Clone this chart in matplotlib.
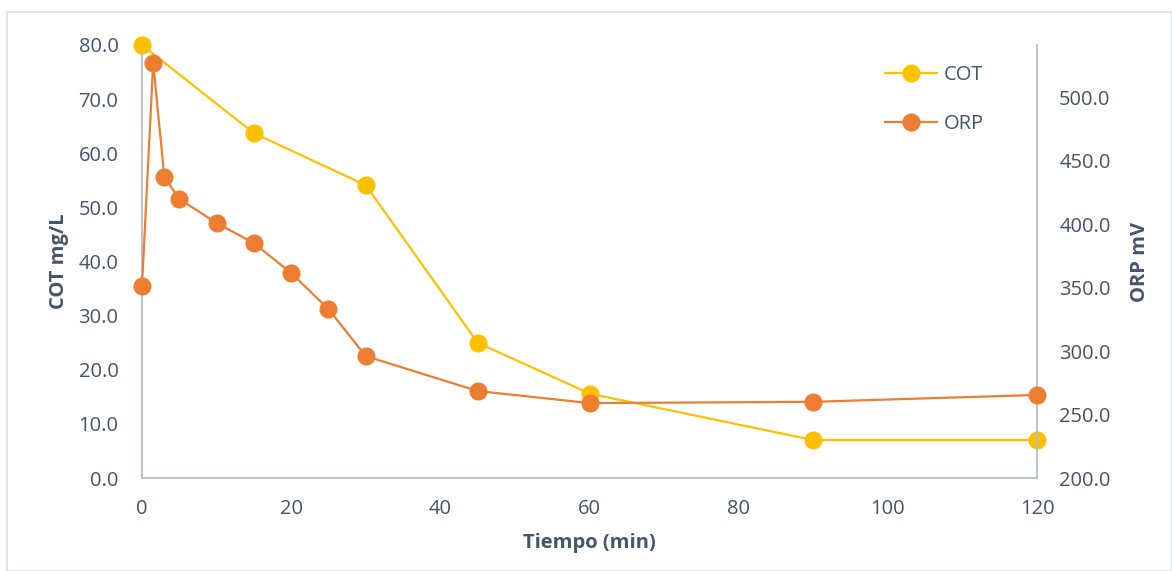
import matplotlib
matplotlib.use("Agg")
import matplotlib.pyplot as plt
from matplotlib.lines import Line2D
from matplotlib.patches import Rectangle

# Data
cot_time = [0, 15, 30, 45, 60, 90, 120]
cot_vals = [80.0, 63.7, 54.1, 25.0, 15.6, 7.0, 7.0]
orp_time = [0, 1.5, 3, 5, 10, 15, 20, 25, 30, 45, 60, 90, 120]
orp_vals = [351.2, 526.8, 437.0, 419.7, 400.8, 385.0, 361.4, 333.0, 296.0, 268.5, 259.0, 260.0, 265.4]
x_ticks = [0, 20, 40, 60, 80, 100, 120]
left_ticks = [0, 10, 20, 30, 40, 50, 60, 70, 80]
right_ticks = [200, 250, 300, 350, 400, 450, 500]

COT_C = "#FFC000"
ORP_C = "#ED7D31"
TXT = "#44546A"
SPINE = "#B4BFCE"
FS = 14.5

plt.rcParams['font.family'] = ['Open Sans', 'DejaVu Sans']

fig = plt.figure(figsize=(11.72, 5.71), dpi=100)
fig.patches.append(Rectangle((7/1172, 0), 1 - 7/1172, 1 - 12/571, transform=fig.transFigure,
                             fill=False, edgecolor="#D9DEE6", linewidth=1.2))
ax = fig.add_axes([142/1172, 1 - 478/571, (1037 - 142)/1172, (478 - 45)/571])
ax2 = ax.twinx()

ax.plot(cot_time, cot_vals, color=COT_C, linewidth=1.6, marker='o', markersize=12,
        markerfacecolor=COT_C, markeredgecolor=COT_C, clip_on=False, zorder=3)
ax2.plot(orp_time, orp_vals, color=ORP_C, linewidth=1.6, marker='o', markersize=12,
         markerfacecolor=ORP_C, markeredgecolor=ORP_C, clip_on=False, zorder=3)

ax.set_xlim(0, 120)
ax.set_ylim(0, 80)
ax2.set_ylim(200, 541)
ax.set_xticks(x_ticks)
ax.set_yticks(left_ticks)
ax.set_yticklabels([f"{v:.1f}" for v in left_ticks])
ax2.set_yticks(right_ticks)
ax2.set_yticklabels([f"{v:.1f}" for v in right_ticks])

for a in (ax, ax2):
    for s in a.spines.values():
        s.set_color(SPINE)
        s.set_linewidth(1.3)
    a.spines['top'].set_visible(False)
ax.spines['right'].set_visible(False)
ax2.spines['left'].set_visible(False)
ax2.spines['bottom'].set_visible(False)

ax.tick_params(axis='both', length=0, labelsize=FS, labelcolor=TXT)
ax.tick_params(axis='y', pad=17)
ax.tick_params(axis='x', pad=15)
ax2.tick_params(axis='y', length=0, labelsize=FS, labelcolor=TXT, pad=16)

ax.set_xlabel("Tiempo (min)", fontsize=FS, fontweight='bold', color=TXT, labelpad=10)
ax.set_ylabel("COT mg/L", fontsize=FS, fontweight='bold', color=TXT, labelpad=7)
ax2.set_ylabel("ORP mV", fontsize=FS, fontweight='bold', color=TXT, labelpad=14)

handles = [Line2D([0], [0], color=COT_C, linewidth=1.6, marker='o', markersize=12),
           Line2D([0], [0], color=ORP_C, linewidth=1.6, marker='o', markersize=12)]
leg = ax.legend(handles, ["COT", "ORP"], loc='upper left', bbox_to_anchor=(0.81, 0.995),
                frameon=False, fontsize=FS, labelcolor=TXT, handlelength=2.6,
                handletextpad=0.3, labelspacing=1.45)

fig.savefig("out.png", dpi=100)
